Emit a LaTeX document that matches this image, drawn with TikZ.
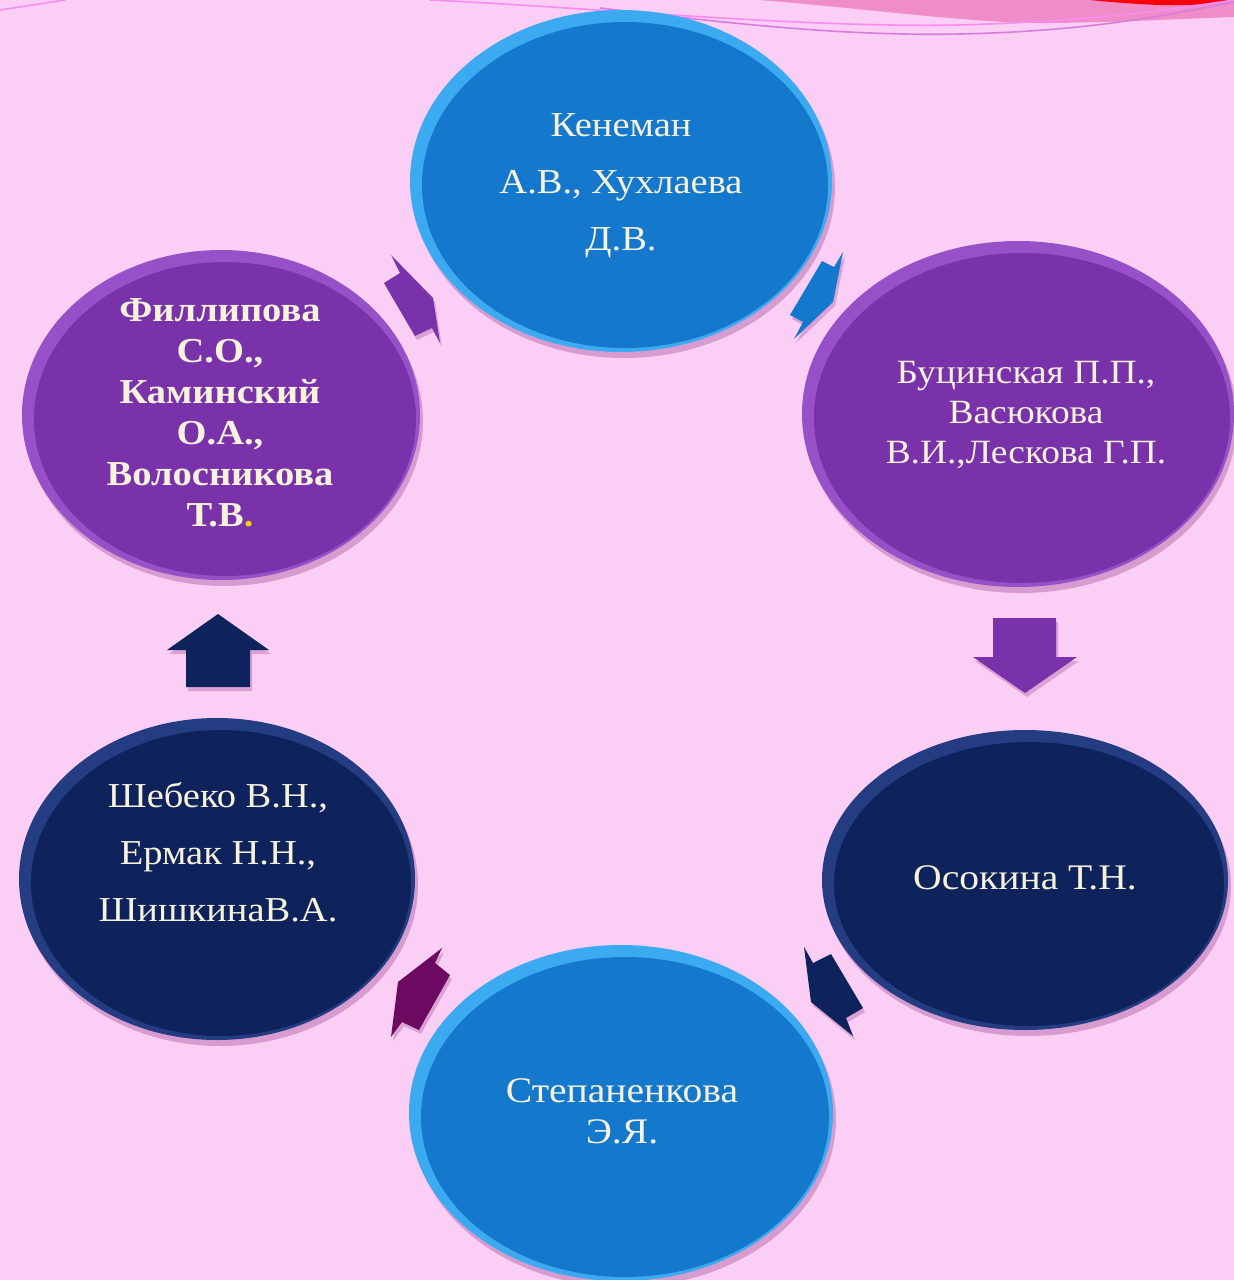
\documentclass[tikz,border=0pt]{standalone}
\usepackage{fontspec}
\setmainfont{Liberation Serif}[FakeStretch=1.1]
\usetikzlibrary{shapes.geometric,calc,shadows}
\definecolor{bg}{RGB}{250,206,245}
\definecolor{bandpink}{RGB}{240,140,200}
\definecolor{redblob}{RGB}{250,0,10}
\definecolor{lineA}{RGB}{248,140,240}
\definecolor{lineB}{RGB}{215,125,220}
\definecolor{blueM}{RGB}{20,120,204}
\definecolor{blueR}{RGB}{60,170,240}
\definecolor{purpM}{RGB}{122,50,170}
\definecolor{purpR}{RGB}{150,80,200}
\definecolor{navyM}{RGB}{14,34,92}
\definecolor{navyR}{RGB}{35,60,130}
\definecolor{magM}{RGB}{108,10,98}
\definecolor{cream}{RGB}{246,242,220}
\definecolor{dotyellow}{RGB}{240,210,0}
\definecolor{shade}{RGB}{150,60,140}
\tikzset{
  bubble/.style n args={3}{ellipse, inner sep=0pt, minimum width=#1, minimum height=#2, fill=#3,
     drop shadow={shadow xshift=3pt, shadow yshift=-6pt, opacity=.35, fill=shade}},
  label/.style={text=cream, align=center, inner sep=0pt},
  blockarrow/.style={fill=#1, drop shadow={shadow xshift=2pt, shadow yshift=-4pt, opacity=.3, fill=shade}}
}
\begin{document}
\begin{tikzpicture}[x=1pt,y=-1pt]
\useasboundingbox (0,0) rectangle (1234,1280);
\fill[bg] (0,0) rectangle (1234,1280);
% top decoration
\fill[bandpink] (760,0) .. controls (880,10) and (980,24) .. (1050,23) .. controls (1130,22) and (1200,18) .. (1234,17) -- (1234,0) -- cycle;
\fill[redblob] (1090,0) .. controls (1130,4) and (1165,6) .. (1190,5) .. controls (1210,4) and (1225,2) .. (1234,0) -- cycle;
\draw[lineA, line width=1.6pt] (430,0) .. controls (600,8) and (800,28) .. (960,25) .. controls (1100,21) and (1180,8) .. (1234,0);
\draw[lineB, line width=1.6pt] (600,8) .. controls (750,26) and (850,36) .. (960,34) .. controls (1100,31) and (1180,12) .. (1234,2);
\draw[lineA, line width=1.6pt] (0,10) -- (65,0);

% ellipses
\node[bubble={422pt}{342pt}{blueR}] (e1) at (621,181) {};
\fill[blueM] ($(e1)+(4,4)$) ellipse [x radius=203pt, y radius=163pt];
\node[bubble={432pt}{346pt}{purpR}] (e2) at (1018,414) {};
\fill[purpM] ($(e2)+(4,4)$) ellipse [x radius=208pt, y radius=165pt];
\node[bubble={406pt}{300pt}{navyR}] (e3) at (1025,880) {};
\fill[navyM] ($(e3)+(4,4)$) ellipse [x radius=195pt, y radius=142pt];
\node[bubble={424pt}{336pt}{blueR}] (e4) at (621,1113) {};
\fill[blueM] ($(e4)+(4,4)$) ellipse [x radius=204pt, y radius=160pt];
\node[bubble={396pt}{322pt}{navyR}] (e5) at (217,879) {};
\fill[navyM] ($(e5)+(4,4)$) ellipse [x radius=190pt, y radius=153pt];
\node[bubble={398pt}{330pt}{purpR}] (e6) at (221,415) {};
\fill[purpM] ($(e6)+(4,4)$) ellipse [x radius=191pt, y radius=157pt];

% texts
\node[label, font=\fontsize{35}{57}\selectfont] (t1) at ($(e1)+(0,5)$) {Кенеман\\А.В., Хухлаева\\Д.В.};
\node[label, font=\fontsize{34}{40}\selectfont] (t2) at ($(e2)+(8,1)$) {Буцинская П.П.,\\Васюкова\\В.И.,Лескова Г.П.};
\node[label, font=\fontsize{36}{40}\selectfont] (t3) at ($(e3)+(0,-2)$) {Осокина Т.Н.};
\node[label, font=\fontsize{36}{41}\selectfont] (t4) at ($(e4)+(1,-2)$) {Степаненкова\\Э.Я.};
\node[label, font=\fontsize{35}{57}\selectfont] (t5) at ($(e5)+(1,-27)$) {Шебеко В.Н.,\\Ермак Н.Н.,\\ШишкинаВ.А.};
\node[label, font=\bfseries\fontsize{35}{41}\selectfont] (t6) at ($(e6)+(-1,-2)$) {Филлипова\\С.О.,\\Каминский\\О.А.,\\Волосникова\\Т.В{\color{dotyellow}.}};

% block arrows
\path[blockarrow=purpM] (391,255) -- (400,273) -- (384,283) -- (415,336) -- (432,328) -- (440,343) -- (433,298) -- cycle;
\path[blockarrow=blueM] (822,261) -- (834,267) -- (843,252) -- (833,302) -- (794,339) -- (803,322) -- (790,315) -- cycle;
\path[blockarrow=purpM] (993,618) -- (1056,618) -- (1056,657) -- (1077,657) -- (1025,693) -- (973,657) -- (993,657) -- cycle;
\path[blockarrow=navyM] (804,947) -- (813,963) -- (831,954) -- (863,1008) -- (846,1018) -- (853,1036) -- (811,1002) -- cycle;
\path[blockarrow=magM] (442,948) -- (435,963) -- (450,975) -- (419,1030) -- (402,1022) -- (391,1037) -- (398,982) -- cycle;
\path[blockarrow=navyM] (218,614) -- (269,650) -- (250,650) -- (250,687) -- (186,687) -- (186,650) -- (167,650) -- cycle;
\end{tikzpicture}
\end{document}
